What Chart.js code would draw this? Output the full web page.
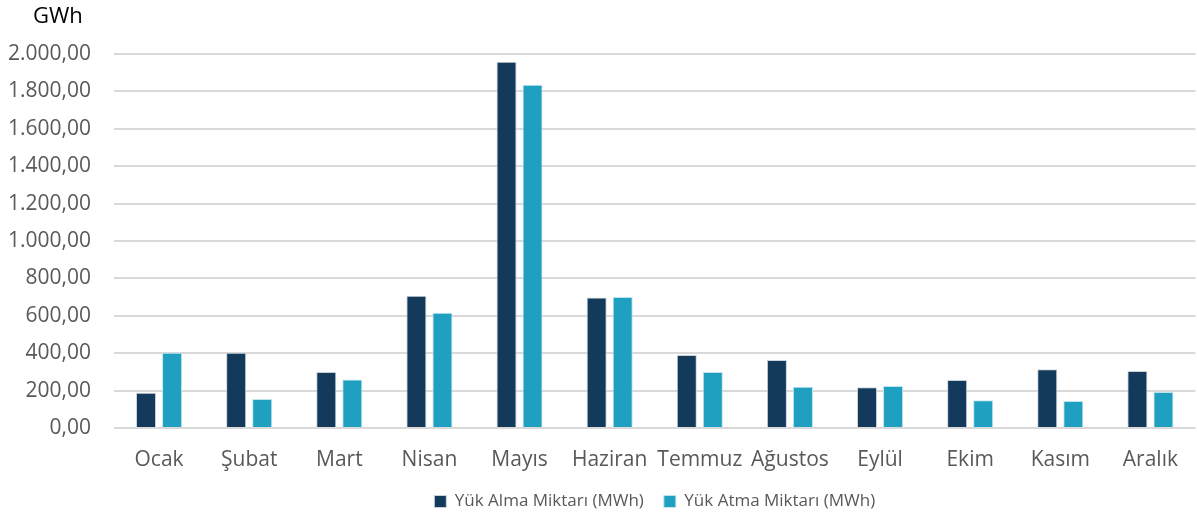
<!DOCTYPE html>
<html>
<head>
<meta charset="utf-8">
<script src="https://cdn.jsdelivr.net/npm/chart.js@4"></script>
<style>
  html, body { margin: 0; padding: 0; background: #fff; }
  #wrap { width: 1197px; height: 518px; position: relative; }
</style>
</head>
<body>
<div id="wrap"><canvas id="loadChart"></canvas></div>
<script>
const months = ["Ocak", "Şubat", "Mart", "Nisan", "Mayıs", "Haziran", "Temmuz", "Ağustos", "Eylül", "Ekim", "Kasım", "Aralık"];
const loadTaken = [188, 402, 300, 707, 1959, 698, 391, 363, 218, 257, 314, 305];
const loadShed = [402, 155, 259, 616, 1836, 700, 300, 220, 225, 148, 145, 193];
const seriesNames = ["Yük Alma Miktarı (MWh)", "Yük Atma Miktarı (MWh)"];
const unitLabel = "GWh";

const fontFamily = "'Open Sans', sans-serif";

// 2000 -> "2.000,00"
function trNumber(v) {
    const parts = Math.abs(v).toFixed(2).split(".");
    const intPart = parts[0].replace(/\B(?=(\d{3})+(?!\d))/g, ".");
    return (v < 0 ? "-" : "") + intPart + "," + parts[1];
}

// unit label above the y axis
const unitPlugin = {
    id: "unitLabel",
    afterDraw(chart) {
        const ctx = chart.ctx;
        ctx.save();
        ctx.font = "22px " + fontFamily;
        ctx.fillStyle = "#000";
        ctx.textAlign = "left";
        ctx.textBaseline = "middle";
        ctx.fillText(unitLabel, 33, 17);
        ctx.restore();
    }
};

new Chart(document.getElementById("loadChart"), {
    type: "bar",
    data: {
        labels: months,
        datasets: [{
            label: seriesNames[0],
            data: loadTaken,
            backgroundColor: "#133A5B",
            borderColor: "#c9d3dc",
            borderWidth: 1
        }, {
            label: seriesNames[1],
            data: loadShed,
            backgroundColor: "#20A0C1",
            borderColor: "#bfe3ee",
            borderWidth: 1
        }]
    },
    options: {
        responsive: true,
        maintainAspectRatio: false,
        animation: false,
        categoryPercentage: 0.578,
        barPercentage: 0.77,
        layout: { padding: { top: 54, right: 0, left: -15, bottom: -2 } },
        scales: {
            x: {
                grid: { display: false, drawTicks: false },
                border: { display: false },
                ticks: {
                    color: "#595959",
                    font: { family: fontFamily, size: 21 },
                    padding: 19,
                    maxRotation: 0,
                    autoSkip: false
                },
                // fit() counts the tick padding twice, keep the axis tight
                afterFit: scale => { scale.height = 45; }
            },
            y: {
                min: 0,
                max: 2000,
                grid: { color: "#D9D9D9", lineWidth: 2, drawTicks: false },
                border: { display: false },
                ticks: {
                    stepSize: 200,
                    color: "#595959",
                    font: { family: fontFamily, size: 21 },
                    padding: 23,
                    callback: v => trNumber(v)
                }
            }
        },
        plugins: {
            legend: {
                position: "bottom",
                fullSize: false,
                labels: {
                    color: "#595959",
                    font: { family: fontFamily, size: 17 },
                    boxWidth: 12,
                    boxHeight: 12,
                    padding: 20
                }
            },
            tooltip: { enabled: false }
        }
    },
    plugins: [unitPlugin]
});
</script>
</body>
</html>
